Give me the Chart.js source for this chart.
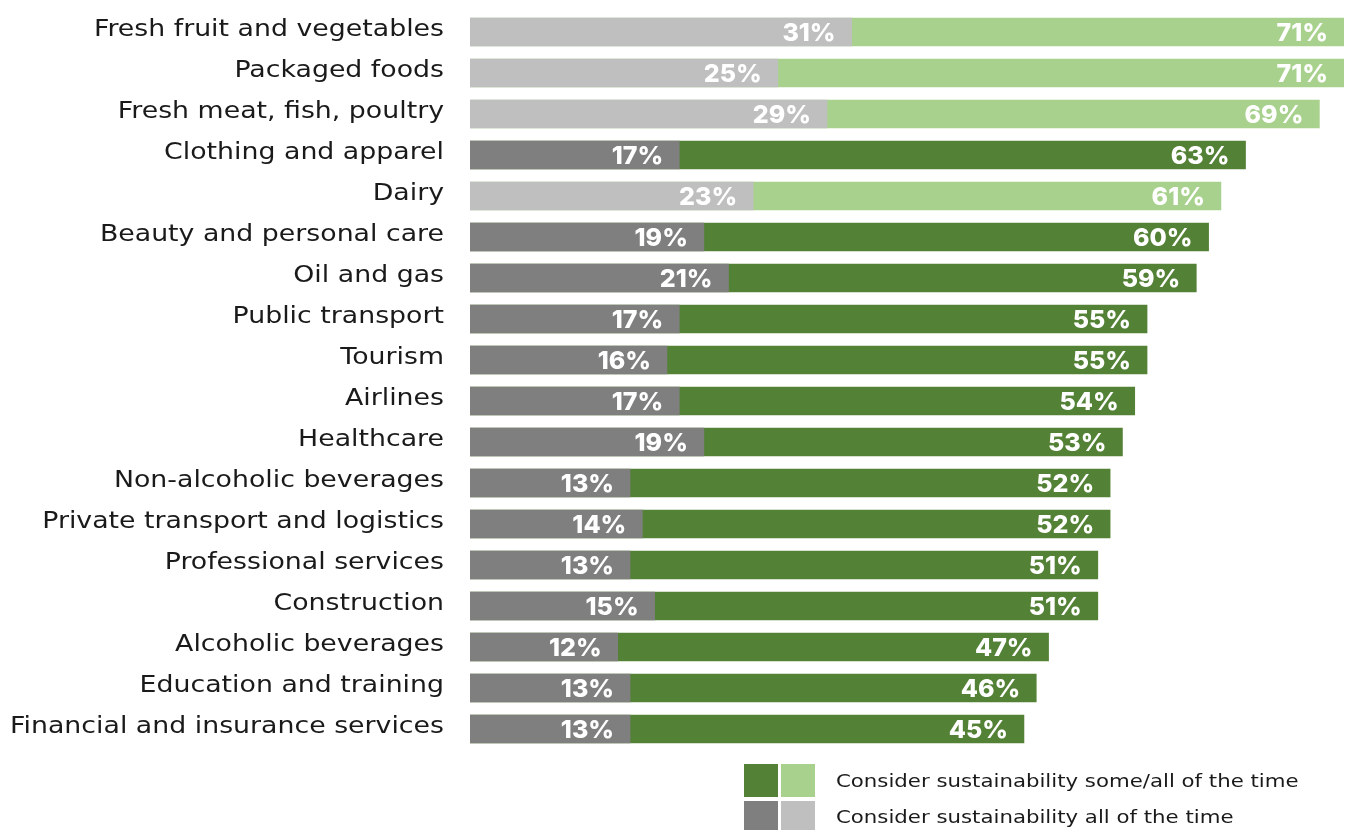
<!DOCTYPE html>
<html>
<head>
<meta charset="utf-8">
<script src="https://cdn.jsdelivr.net/npm/chart.js@4"></script>
<style>
  html, body { margin: 0; padding: 0; background: #fff; }
  #wrap { position: relative; width: 1345px; height: 830px; overflow: hidden; }
  .sw { position: absolute; width: 34px; height: 33px; }
  .lg { position: absolute; left: 836px; font: 18.5px "DejaVu Sans", sans-serif; color: #1a1a1a;
        white-space: nowrap; transform: scaleX(1.15); transform-origin: 0 50%; }
</style>
</head>
<body>
<div id="wrap">
  <canvas id="chart" width="1345" height="830"></canvas>
  <div class="sw" style="left:744px;top:764px;background:#538135"></div>
  <div class="sw" style="left:781px;top:764px;background:#a9d18e"></div>
  <div class="sw" style="left:744px;top:801px;background:#7f7f7f"></div>
  <div class="sw" style="left:781px;top:801px;background:#bfbfbf"></div>
  <div class="lg" style="top:770px">Consider sustainability some/all of the time</div>
  <div class="lg" style="top:806px">Consider sustainability all of the time</div>
</div>
<script>
const categories = [
  'Fresh fruit and vegetables', 'Packaged foods', 'Fresh meat, fish, poultry',
  'Clothing and apparel', 'Dairy', 'Beauty and personal care', 'Oil and gas',
  'Public transport', 'Tourism', 'Airlines', 'Healthcare', 'Non-alcoholic beverages',
  'Private transport and logistics', 'Professional services', 'Construction',
  'Alcoholic beverages', 'Education and training', 'Financial and insurance services'
];
const someOrAll = [71, 71, 69, 63, 61, 60, 59, 55, 55, 54, 53, 52, 52, 51, 51, 47, 46, 45];
const allTheTime = [31, 25, 29, 17, 23, 19, 21, 17, 16, 17, 19, 13, 14, 13, 15, 12, 13, 13];
const foodRows = ['Fresh fruit and vegetables', 'Packaged foods', 'Fresh meat, fish, poultry', 'Dairy'];

const greenColors = categories.map(c => foodRows.includes(c) ? '#a9d18e' : '#538135');
const grayColors = categories.map(c => foodRows.includes(c) ? '#bfbfbf' : '#7f7f7f');

// white percentage labels near the end of each bar
const valueLabels = {
  id: 'valueLabels',
  afterDatasetsDraw(chart) {
    const ctx = chart.ctx;
    ctx.save();
    ctx.fillStyle = '#fff';
    ctx.font = '800 25px Inter, sans-serif';
    ctx.textAlign = 'right';
    ctx.textBaseline = 'middle';
    chart.data.datasets.forEach((ds, i) => {
      chart.getDatasetMeta(i).data.forEach((bar, j) => {
        ctx.fillText(ds.data[j] + '%', bar.x - 16, bar.y + 1);
      });
    });
    ctx.restore();
  }
};

// category names, stretched a bit to get closer to the wide original typeface
const categoryLabels = {
  id: 'categoryLabels',
  afterDraw(chart) {
    const ctx = chart.ctx;
    const y = chart.scales.y;
    ctx.save();
    ctx.fillStyle = '#1a1a1a';
    ctx.font = '22.5px "DejaVu Sans", sans-serif';
    ctx.textAlign = 'right';
    ctx.textBaseline = 'alphabetic';
    chart.data.labels.forEach((label, i) => {
      ctx.save();
      ctx.translate(y.right - 26, y.getPixelForValue(i) + 4);
      ctx.scale(1.19, 1);
      ctx.fillText(label, 0, 0);
      ctx.restore();
    });
    ctx.restore();
  }
};

new Chart(document.getElementById('chart'), {
  type: 'bar',
  data: {
    labels: categories,
    datasets: [
      { label: 'Consider sustainability all of the time', data: allTheTime, backgroundColor: grayColors, grouped: false, order: 0 },
      { label: 'Consider sustainability some/all of the time', data: someOrAll, backgroundColor: greenColors, grouped: false, order: 1 }
    ]
  },
  options: {
    indexAxis: 'y',
    responsive: false,
    animation: false,
    barThickness: 28,
    layout: { padding: { top: 11.5, bottom: 80.5, right: 1, left: 0 } },
    plugins: { legend: { display: false }, tooltip: { enabled: false } },
    scales: {
      x: { display: false, min: 0, max: 71 },
      y: {
        grid: { display: false, drawTicks: false },
        border: { display: false },
        afterFit(axis) {
          axis.width = 470;
          axis.paddingTop = 0;
          axis.paddingBottom = 0;
        },
        ticks: { display: false }
      }
    }
  },
  plugins: [valueLabels, categoryLabels]
});
</script>
</body>
</html>
